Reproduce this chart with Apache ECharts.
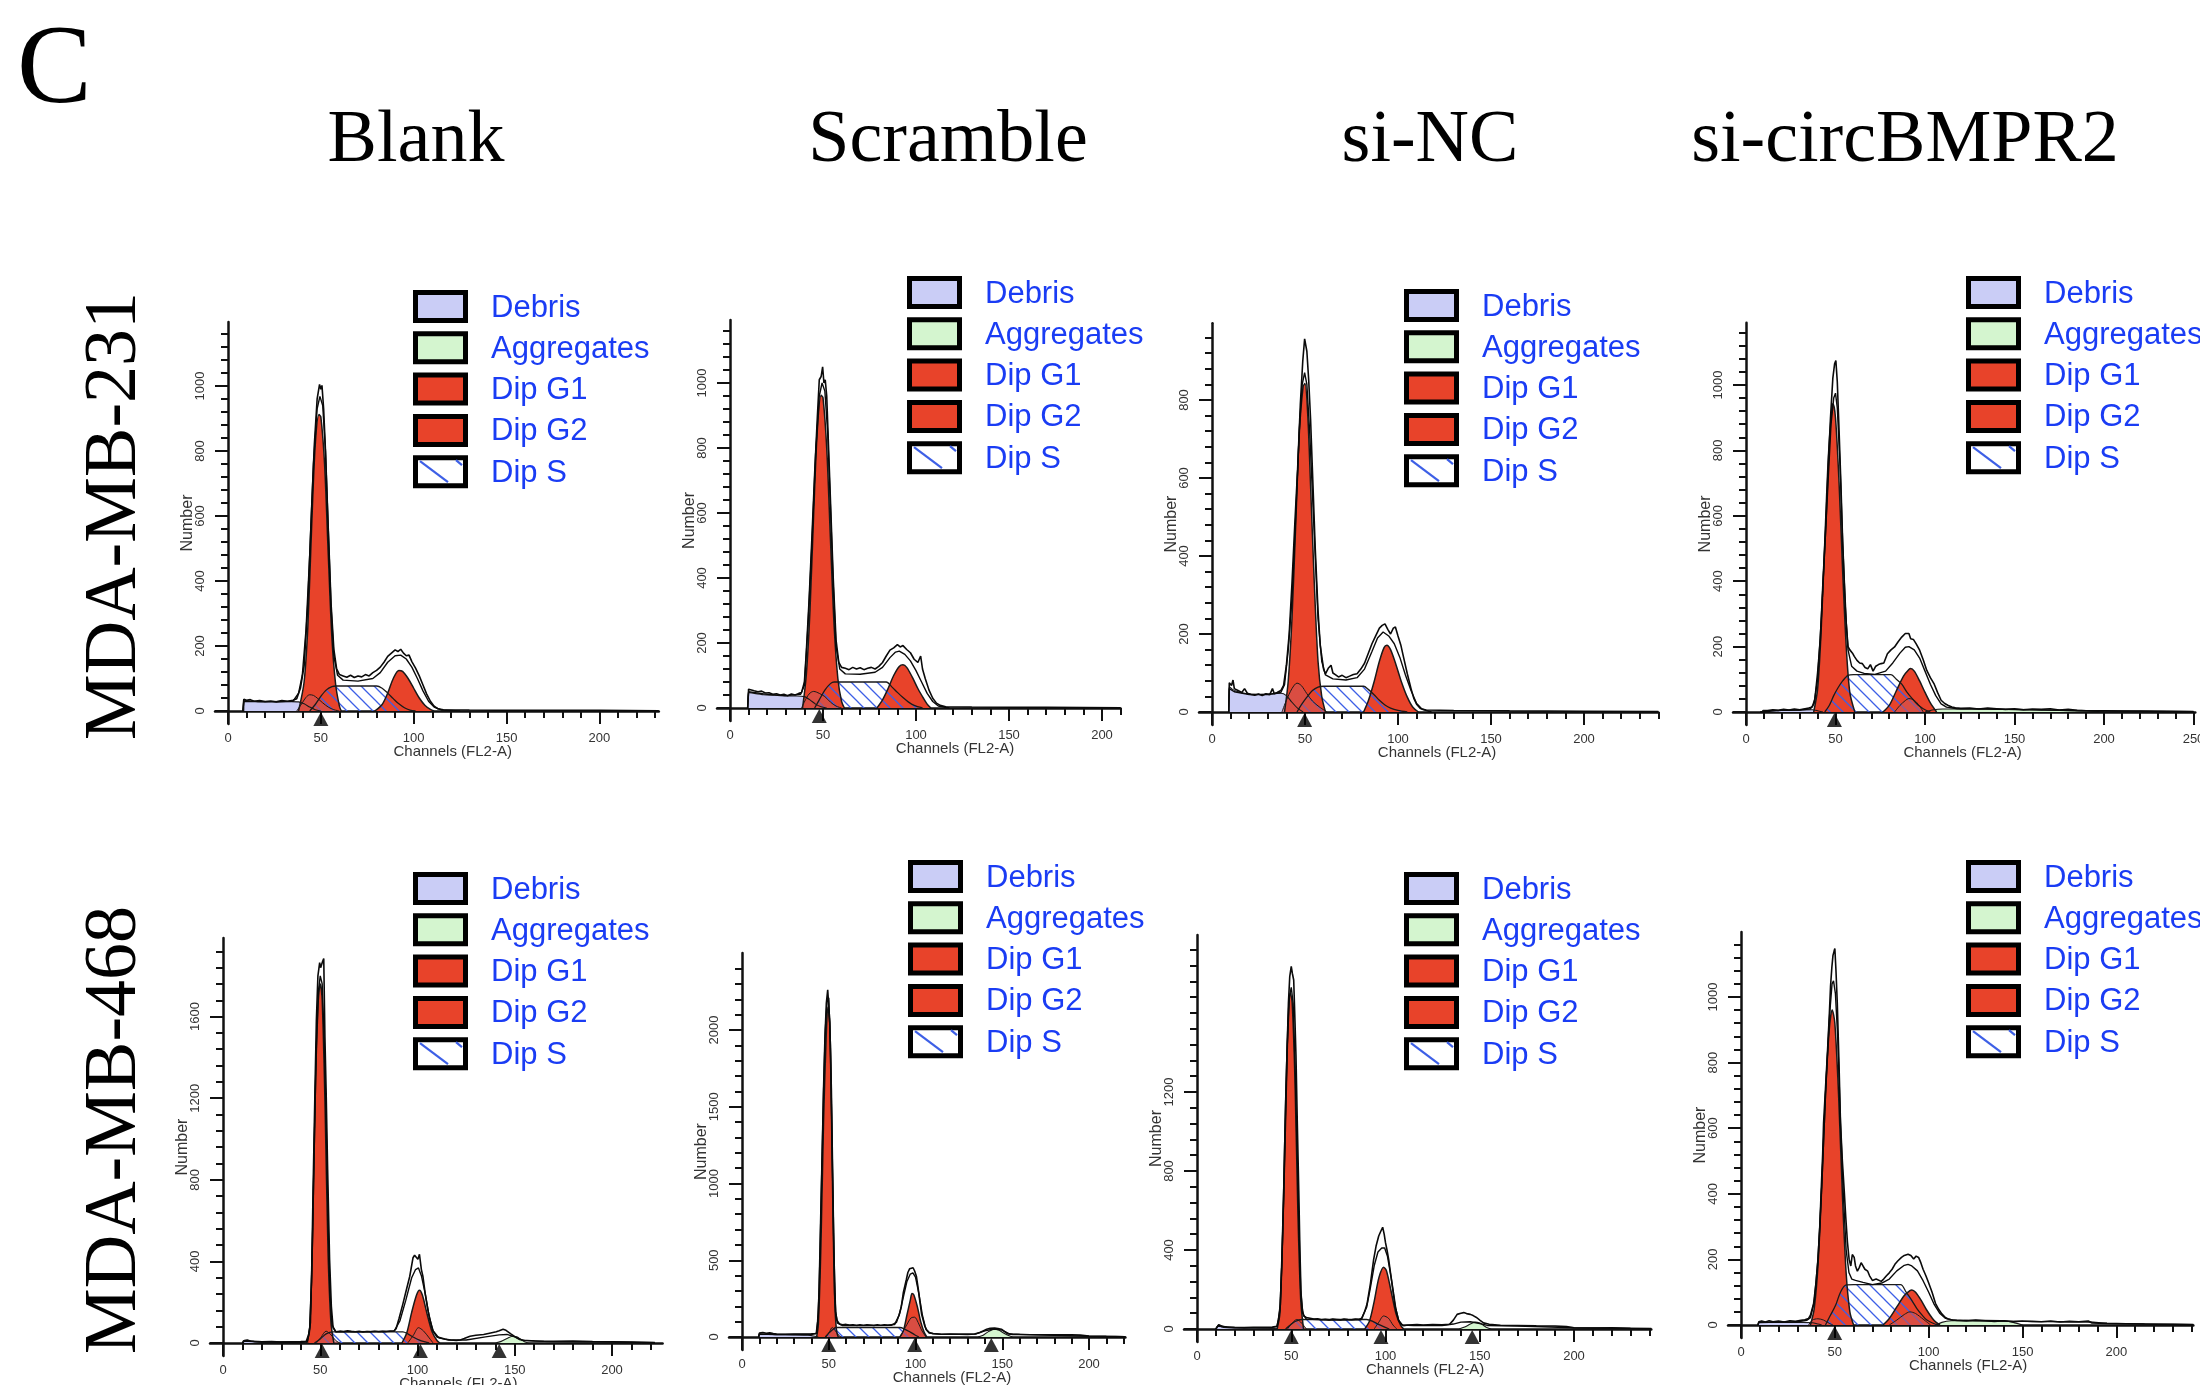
<!DOCTYPE html>
<html><head><meta charset="utf-8">
<script src="https://cdn.jsdelivr.net/npm/echarts@6/dist/echarts.min.js"></script>
<style>html,body{margin:0;padding:0;background:#fff}#c{width:2200px;height:1385px}</style>
</head><body><div id="c"></div><script>
// ---------- text ----------
const colTitles = ['Blank', 'Scramble', 'si-NC', 'si-circBMPR2'];
const rowTitles = ['MDA-MB-231', 'MDA-MB-468'];
const legendNames = ['Debris', 'Aggregates', 'Dip G1', 'Dip G2', 'Dip S'];

// ---------- tick labels ----------
const p1XLabels = [0,50,100,150,200], p1YLabels = [0,200,400,600,800,1000];
const p2XLabels = [0,50,100,150,200], p2YLabels = [0,200,400,600,800,1000];
const p3XLabels = [0,50,100,150,200], p3YLabels = [0,200,400,600,800];
const p4XLabels = [0,50,100,150,200,250], p4YLabels = [0,200,400,600,800,1000];
const p5XLabels = [0,50,100,150,200], p5YLabels = [0,400,800,1200,1600];
const p6XLabels = [0,50,100,150,200], p6YLabels = [0,500,1000,1500,2000];
const p7XLabels = [0,50,100,150,200], p7YLabels = [0,400,800,1200];
const p8XLabels = [0,50,100,150,200], p8YLabels = [0,200,400,600,800,1000];

// ---------- panel 1 : MDA-MB-231 Blank ----------
const p1Data = [[8,0],[8.5,36],[10,33],[12,35],[14,30],[17,32],[20,29],[23,31],[26,28],[29,32],[32,30],[35,33],[37,38],[39,70],[41,140],[43,330],[45,620],[46.5,820],[48,960],[49.3,1005],[50,990],[50.6,1002],[51.5,930],[52.5,800],[54,560],[55.5,330],[57,190],[58.5,130],[60,112],[62,108],[64,104],[66,110],[68,103],[70,108],[72,105],[74,112],[76,108],[78,118],[80,125],[82,135],[84,150],[86,168],[88,178],[90,188],[91.5,183],[93,190],[94.5,178],[96,170],[97.5,172],[99,152],[101,132],[103,108],[105,80],[107,52],[109,30],[111,15],[113,7],[116,4],[130,3],[160,2],[200,2],[232,1]];
const p1Fit = [[8,0],[8.5,30],[20,28],[35,30],[38,55],[40,110],[42,250],[44,480],[46,760],[48,930],[49.5,968],[51,940],[52.5,800],[54,560],[55.5,320],[57,170],[59,110],[62,95],[70,92],[78,100],[82,118],[86,150],[90,170],[93,172],[96,160],[99,135],[102,100],[105,62],[108,30],[111,12],[115,3],[125,0]];
const p1G1 = [[38,0],[41,90],[43,260],[45,560],[47,820],[49,912],[50,905],[52,760],[54,480],[56,220],[58,80],[60,15],[61,0]];
const p1G2 = [[79,0],[83,20],[86,55],[89,100],[92,125],[94,122],[97,100],[100,70],[103,40],[106,18],[109,5],[111,0]];
const p1S = [[44,0],[47,20],[50,45],[53,65],[56,75],[58,77],[70,77],[80,77],[83,70],[86,55],[89,38],[92,22],[95,10],[98,3],[101,0]];
const p1Debris = [[8.5,0],[9,32],[12,31],[16,29],[22,29],[28,28],[34,29],[38,28],[41,22],[44,12],[47,4],[50,0]];
const p1Agg = [];
const p1Tail = [[37,0],[40,25],[42,42],[44,50],[46,48],[48,40],[51,25],[54,12],[57,4],[60,0]];
const p1Tri = [50];

// ---------- panel 2 : MDA-MB-231 Scramble ----------
const p2Data = [[9.5,0],[10,58],[11,55],[13,53],[15,50],[17,52],[19,46],[21,47],[23,42],[25,44],[27,40],[29,42],[31,38],[33,43],[35,40],[37,45],[38.5,48],[40,80],[41,170],[42.5,330],[44,520],[45.5,720],[47,900],[48,1010],[49,1020],[49.8,1050],[50.5,1000],[51.2,1010],[52,960],[53,800],[54,640],[55.5,400],[57,210],[58.5,140],[60,125],[62,122],[64,118],[66,125],[68,120],[70,124],[72,118],[74,122],[76,125],[78,120],[80,128],[82,140],[84,160],[86,178],[88,185],[90,195],[91.5,188],[93,192],[95,180],[97,170],[99,150],[101,140],[102.5,160],[103.5,120],[105,90],[107,55],[109,30],[111,15],[113,8],[116,4],[130,3],[170,2],[210,1]];
const p2Fit = [[9.5,0],[10,50],[20,42],[30,38],[38,42],[40,70],[42,260],[44,500],[46,780],[48,960],[49.5,1000],[51,975],[52.5,850],[54,620],[55.5,380],[57,190],[59,120],[62,105],[70,104],[78,110],[82,125],[86,155],[89,172],[91,175],[94,165],[97,145],[100,115],[103,80],[106,45],[109,20],[112,6],[118,0]];
const p2G1 = [[39,0],[41,100],[43,300],[45,600],[47,860],[49,962],[50,955],[52,800],[54,520],[56,250],[58,90],[60,20],[61.5,0]];
const p2G2 = [[79,0],[82,25],[85,60],[88,100],[91,128],[93,133],[95,125],[98,95],[101,60],[104,30],[106,12],[108,0]];
const p2S = [[45.5,0],[48,25],[51,55],[54,75],[56,80],[70,80],[84,80],[87,65],[90,48],[93,32],[96,18],[99,8],[103.5,0]];
const p2Debris = [[9.5,0],[10,48],[13,45],[18,41],[24,39],[30,37],[36,37],[40,35],[43,25],[46,12],[49,4],[52,0]];
const p2Agg = [];
const p2Tail = [[38.5,0],[41,30],[43,46],[45,51],[48,45],[51,35],[54,18],[57,6],[60,0]];
const p2Tri = [48];

// ---------- panel 3 : MDA-MB-231 si-NC ----------
const p3Data = [[9,0],[9.3,75],[10.5,68],[11.3,82],[12,60],[14,55],[16,50],[17.5,60],[19,48],[21,45],[23,43],[25,46],[27,42],[29,47],[31,44],[32.5,60],[33.5,47],[35,50],[37,55],[38.5,68],[40,120],[41.5,200],[43,330],[44.5,480],[46,620],[47.5,790],[48.8,900],[49.8,957],[51,925],[52,850],[53,750],[54.3,580],[55.5,420],[57,260],[58.2,170],[60,110],[61,98],[62.5,112],[64,120],[65,100],[66.5,95],[68,90],[70,94],[72,88],[74,92],[76,96],[78,98],[80,110],[82,125],[84,150],[86,175],[88,195],[90,215],[91.5,222],[93,226],[94.5,212],[96,200],[97.5,215],[98.6,218],[100,195],[101.5,172],[103,140],[105,98],[107,60],[108.5,35],[110,20],[112,9],[115,5],[130,4],[160,3],[200,2],[240,1]];
const p3Fit = [[9,0],[9.3,60],[12,52],[20,45],[30,45],[37,50],[39,70],[41,160],[43,290],[45,500],[47,730],[48.5,840],[49.8,870],[51,840],[52.5,720],[54,560],[55.5,400],[57,240],[59,130],[61,95],[65,85],[72,82],[78,88],[82,110],[86,155],[89,190],[92,205],[95,195],[98,175],[101,140],[104,95],[107,55],[110,22],[113,7],[118,0]];
const p3G1 = [[39,0],[41,80],[43,240],[45,480],[47,720],[49,835],[50,842],[51.5,760],[53,580],[55,330],[57,130],[59,40],[61,0]];
const p3G2 = [[81.5,0],[84,28],[87,75],[90,130],[92.5,165],[94,171],[96,160],[99,120],[102,75],[105,38],[108,12],[111,0]];
const p3S = [[45.7,0],[48,18],[51,38],[54,55],[57,64],[60,66],[70,66],[81.5,66],[84,58],[87,45],[90,30],[93,18],[96,10],[100,4],[105,0]];
const p3Debris = [[9,0],[9.3,65],[11,58],[14,52],[20,46],[26,45],[32,46],[37,48],[40,42],[43,25],[46,10],[49,0]];
const p3Agg = [];
const p3Tail = [[37.6,0],[40,30],[43,60],[45.7,74],[48,68],[51,47],[54,28],[58,12],[62,0]];
const p3Tri = [49.8];

// ---------- panel 4 : MDA-MB-231 si-circBMPR2 ----------
const p4Data = [[8,0],[9,6],[12,4],[15,7],[18,5],[21,8],[24,6],[27,9],[30,7],[33,10],[35,12],[37,15],[38.5,40],[40,120],[41.5,220],[43,400],[44.5,560],[46,760],[47.2,900],[48.5,1020],[49.5,1065],[50.2,1075],[51,1010],[52,860],[53,700],[54,520],[55,390],[56,270],[57,200],[58,190],[58.8,196],[59.5,180],[60.5,170],[62,158],[63.5,150],[65,148],[66.5,136],[68,132],[69.5,145],[71,125],[72.5,140],[74,145],[75.5,148],[77,150],[79,178],[81,190],[83,199],[85,215],[87,229],[89,240],[90,245],[91,240],[92,224],[93.5,222],[95,209],[97,189],[99,160],[101,127],[103,105],[105,87],[107,60],[109,36],[111,26],[113,20],[115,15],[117,13],[120,11],[125,12],[130,9],[135,12],[140,10],[145,8],[150,10],[155,7],[160,9],[165,8],[170,10],[175,6],[180,8],[185,5],[190,4],[200,4],[210,3],[220,3],[235,2],[250,1]];
const p4Fit = [[8,0],[9,4],[20,5],[30,6],[36,10],[38,25],[40,100],[42,280],[44,500],[46,720],[47.5,880],[49,960],[50,975],[51,930],[52.5,760],[54,520],[55.5,320],[57,190],[59,140],[62,125],[66,118],[72,115],[78,125],[82,150],[86,180],[89,198],[91,200],[94,190],[97,165],[100,125],[103,85],[106,50],[109,25],[112,15],[118,10],[150,8],[190,4],[250,1]];
const p4G1 = [[37.8,0],[40,70],[42,250],[44,520],[46,780],[48,930],[48.6,943],[50,900],[52,700],[54,430],[56,200],[58,60],[60.8,0]];
const p4G2 = [[76.5,0],[80,20],[84,65],[88,110],[91,130],[92,133],[94,125],[97,95],[100,60],[103,28],[106.5,0]];
const p4S = [[44,0],[46.5,20],[49,50],[51.5,75],[54,95],[57,112],[60,114],[70,114],[81,114],[84,100],[87,85],[90,60],[93,40],[96,22],[99,10],[103,0]];
const p4Debris = [[9,0],[9.5,5],[20,5],[30,6],[37,7],[40,4],[43,0]];
const p4Agg = [[100,0],[104,6],[110,9],[120,9],[130,9],[140,8],[150,7],[160,6],[175,5],[190,3],[200,0]];
const p4Tail = [[83,0],[86,20],[89,35],[91,41],[94,36],[97,18],[99,0]];
const p4Tri = [49.4];

// ---------- panel 5 : MDA-MB-468 Blank ----------
const p5Data = [[10,0],[11,12],[12.5,14],[14,10],[16,8],[20,6],[25,7],[30,5],[35,6],[40,7],[42.8,8],[44,40],[44.6,75],[45.5,300],[46.3,744],[47.2,1200],[48,1580],[48.8,1800],[49.7,1865],[50.2,1840],[50.6,1848],[51.2,1870],[51.8,1885],[52.4,1500],[53,1246],[53.8,850],[54.8,410],[55.7,180],[56.6,75],[58,55],[60,58],[62,56],[64,60],[66,57],[68,55],[70,58],[72,54],[74,56],[76,55],[78,58],[80,55],[82,57],[84,56],[86,58],[88,60],[89,70],[90.5,120],[92.5,192],[94,250],[96,326],[97.7,418],[98.5,430],[99.4,426],[100.2,410],[101,435],[102,360],[102.8,326],[104,240],[105.4,159],[107,90],[108,58],[110,30],[111,25],[114,20],[117,15],[120,12],[122,15],[124,22],[127,33],[130,38],[134,42],[137,48],[140.5,55],[142,60],[144,67],[145.5,62],[146.5,58],[148,45],[149,38],[151,25],[152.5,17],[155,12],[160,10],[170,8],[180,9],[190,7],[200,6],[210,5],[215,4],[222,2]];
const p5Fit = [[10,0],[11,10],[20,5],[40,5],[43.5,8],[45,100],[46,500],[47,1000],[48,1450],[49,1720],[50,1800],[51,1760],[52,1500],[53,1100],[54,600],[55,250],[56,90],[58,55],[70,55],[88,58],[91,110],[94,210],[97,320],[99,360],[100.5,368],[102,330],[104,240],[106,130],[108,60],[111,25],[116,15],[125,15],[135,30],[142,40],[146,42],[150,30],[154,14],[165,8],[200,5],[222,2]];
const p5G1 = [[43,0],[44.5,60],[46,500],[47.5,1250],[49,1680],[50,1760],[51,1680],[52.5,1150],[54,450],[55.5,100],[57,0]];
const p5G2 = [[92,0],[94.5,50],[97,150],[99.5,235],[101,259],[102.5,235],[105,140],[107.5,55],[110,12],[111.5,0]];
const p5S = [[47,0],[50,20],[53,45],[56.5,55],[70,55],[85,55],[92.5,55],[95,45],[98,28],[101,14],[104,5],[106,0]];
const p5Debris = [[10,0],[10.5,12],[13,12],[16,6],[20,4],[30,3],[40,2],[44,0]];
const p5Agg = [[140,0],[143,8],[146,22],[149,33],[151,30],[153,18],[155,6],[157,0]];
const p5TailA = [[48,0],[50.5,30],[53,58],[55.5,40],[58,12],[60,0]];
const p5TailB = [[95,0],[98,40],[100.5,75],[103,60],[106,25],[108,0]];
const p5Tri = [51, 101.5, 142];

// ---------- panel 6 : MDA-MB-468 Scramble ----------
const p6Data = [[9.6,0],[10,25],[12,29],[14,24],[16,27],[18,22],[20,20],[25,18],[30,19],[35,20],[40,21],[42.8,22],[43.6,100],[44.4,284],[45,600],[45.7,951],[46.4,1300],[47,1618],[47.8,1950],[48.6,2173],[49.4,2262],[50.1,2273],[50.6,2050],[51.5,1618],[52.4,951],[53,550],[53.4,284],[54,160],[54.8,107],[56.3,84],[58,80],[60,82],[62,78],[64,80],[66,76],[68,79],[70,77],[72,80],[74,78],[76,76],[78,79],[80,77],[82,80],[84,78],[86,80],[88,82],[89,90],[90.5,140],[91.8,196],[93,290],[94.7,373],[95.6,420],[96.6,444],[97.6,448],[98.6,451],[99.5,430],[100.5,396],[101.5,320],[102.4,240],[103.5,150],[105.3,73],[106.5,45],[108,29],[110,22],[115,18],[120,20],[125,18],[130,17],[134,20],[137,29],[139,40],[141,51],[143,56],[145.6,58],[147.5,55],[149.5,51],[151,38],[153,22],[156,17],[160,16],[170,15],[180,14],[190,15],[195,12],[200,6],[210,4],[221,2]];
const p6Fit = [[9.6,0],[10,20],[20,16],[40,16],[43,25],[44,150],[45,550],[46,1100],[47,1600],[48,2000],[49,2180],[50,2210],[51,1900],[52,1200],[53,550],[54,160],[55,90],[58,75],[70,74],[86,76],[89,95],[91,160],[93,260],[95,360],[97,410],[98.5,418],[100,390],[102,280],[104,140],[106,50],[108,25],[115,17],[135,20],[140,40],[145,52],[150,45],[154,20],[170,14],[200,5],[221,2]];
const p6G1 = [[43,0],[44,80],[45.5,600],[47,1400],[48.5,1950],[49.5,2150],[50.5,2050],[51.5,1500],[52.5,750],[53.5,220],[54.5,40],[55.5,0]];
const p6G2 = [[91,0],[93,40],[95,140],[97,240],[98,284],[99,275],[101,200],[103,100],[105,30],[106.5,0]];
const p6S = [[48,0],[50,25],[52,45],[54,62],[70,62],[91,62],[94,50],[97,32],[99.5,15],[102,0]];
const p6Debris = [[9.6,0],[10,18],[14,18],[20,15],[30,14],[38,12],[42,5],[44,0]];
const p6Agg = [[136,0],[139,12],[142,35],[145.6,51],[148,45],[151,25],[154,8],[156,0]];
const p6TailA = [[48.5,0],[50.5,35],[52,62],[53.5,45],[55.5,15],[57,0]];
const p6TailB = [[91,0],[93,40],[95,80],[97.5,125],[99.5,129],[101.5,95],[103.5,45],[106,0]];
const p6Tri = [50, 99.5, 143.7];

// ---------- panel 7 : MDA-MB-468 si-NC ----------
const p7Data = [[10,0],[10.5,10],[11.5,22],[12.5,18],[14,12],[16,9],[20,8],[25,7],[30,9],[35,8],[40,10],[42.4,14],[43.3,50],[44.2,126],[45,350],[46,696],[46.8,1050],[47.7,1387],[48.5,1650],[49.2,1784],[50,1836],[50.6,1800],[51.3,1767],[52,1550],[52.5,1387],[53.2,1050],[54,696],[54.6,400],[55.2,178],[55.9,100],[56.6,66],[58,58],[60,54],[62,50],[64,52],[66,47],[68,49],[70,46],[72,50],[74,48],[76,46],[78,50],[80,48],[82,47],[84,50],[86,49],[87.5,55],[89,90],[90.2,126],[92,230],[93.7,351],[95,420],[96.4,471],[97.5,495],[98.5,515],[99.3,480],[100,437],[100.8,400],[101.7,351],[103,260],[104.3,178],[105.5,100],[107,40],[108.3,25],[109.6,17],[112,20],[116.7,22],[120,20],[125,22],[130,21],[134,24],[136,45],[138,74],[140,80],[141.5,83],[143,78],[145,74],[146.5,68],[148.5,57],[150,45],[152,31],[155,24],[161,19],[170,18],[180,16],[190,15],[196,12],[200,6],[210,5],[220,6],[230,4],[241,2]];
const p7Fit = [[10,0],[11,15],[20,7],[40,8],[42.5,12],[44,100],[45,330],[46,660],[47,1050],[48,1450],[49,1680],[50,1730],[51,1650],[52,1350],[53,950],[54,550],[55,200],[56,80],[58,50],[70,45],[87,47],[90,110],[92,210],[94,320],[96,390],[98,410],[99.5,411],[101,370],[103,260],[105,120],[107,45],[109,20],[115,18],[130,18],[136,25],[140,35],[145,37],[150,28],[154,18],[170,15],[200,6],[241,2]];
const p7G1 = [[42.5,0],[44,80],[45.5,500],[47,1150],[48.5,1600],[49.5,1700],[50.5,1650],[52,1250],[53.5,600],[55,150],[56.5,0]];
const p7G2 = [[89,0],[91.5,40],[94,140],[96.5,260],[99,313],[100.5,295],[103,190],[105.5,80],[108,20],[109.6,0]];
const p7S = [[47,0],[49.5,20],[52,38],[55.7,48],[70,48],[90,48],[93,40],[96,25],[99,12],[102,0]];
const p7Debris = [[10,0],[10.5,10],[11.5,20],[13,10],[16,6],[25,4],[40,3],[43,0]];
const p7Agg = [[139,0],[142,10],[145,25],[147.6,35],[150,30],[152,18],[154,6],[156,0]];
const p7TailA = [[48,0],[50,25],[53,48],[55.5,30],[58,0]];
const p7TailB = [[94,0],[96.5,35],[99,66],[101.5,55],[104,20],[106,0]];
const p7Tri = [50, 97.6, 146];

// ---------- panel 8 : MDA-MB-468 si-circBMPR2 ----------
const p8Data = [[9,0],[9.5,10],[11,12],[13,9],[15,13],[17,10],[20,12],[23,9],[26,13],[29,11],[32,14],[34,16],[36,20],[37,30],[38.7,66],[40,130],[41,201],[42,300],[42.7,409],[43.5,520],[44,617],[45,720],[46,825],[47,940],[47.7,1033],[48.4,1090],[49,1127],[49.6,1140],[50,1148],[50.6,1080],[51.3,981],[52.2,800],[53,617],[54,500],[55,409],[55.8,330],[56.7,253],[57.6,200],[58.5,180],[59.3,215],[60.3,206],[61,180],[62,164],[63,175],[64,190],[64.8,185],[66,170],[67.5,164],[68.5,150],[70,136],[72,140],[74.7,133],[76,140],[77.5,150],[79,159],[80.5,170],[82,185],[83.5,195],[85.5,206],[87,212],[89,216],[90.5,212],[92,201],[93.3,210],[94.6,206],[95.8,190],[97,170],[98.5,150],[100,128],[101.8,100],[103.6,66],[105.3,48],[107,34],[108.5,25],[110,19],[112,16],[115,14],[120,12],[125,15],[130,13],[135,11],[140,13],[145,10],[150,12],[155,11],[160,10],[165,12],[170,9],[175,11],[180,10],[185,12],[187,6],[195,5],[205,4],[215,3],[230,2],[241,1]];
const p8Fit = [[9,0],[9.5,8],[20,9],[30,10],[35,14],[37,22],[39,70],[41,200],[43,420],[45,700],[47,930],[48.5,1040],[49.3,1049],[50.3,1010],[51.5,880],[53,620],[54.5,400],[56,230],[57.5,160],[59,140],[61,136],[65,130],[70,123],[75,128],[79,140],[83,165],[87,182],[89,185],[91,180],[94,165],[97,135],[100,100],[103,62],[106,35],[109,20],[113,15],[125,13],[150,11],[186,9],[195,5],[241,1]];
const p8G1 = [[37,0],[39,50],[41,180],[43,420],[45,700],[47,900],[48.6,960],[50,920],[52,700],[54,400],[56,160],[58,40],[60,0]];
const p8G2 = [[75.6,0],[79,20],[83,55],[87,90],[90,105],[91,107],[93,100],[96,75],[99,45],[102,20],[104,8],[106,0]];
const p8S = [[45,0],[47.5,28],[50.4,60],[53,100],[56,122],[60,123],[70,123],[85,123],[88,100],[91,75],[93.7,50],[96.5,30],[99,15],[102,6],[104.5,0]];
const p8Debris = [[9,0],[9.5,7],[15,8],[25,8],[33,8],[38,7],[41,3],[43,0]];
const p8Agg = [[104,0],[107,8],[112,13],[120,14],[130,14],[140,13],[145,8],[150,0]];
const p8TailA = [[36,0],[38,15],[41,19],[44,15],[47,5],[49,0]];
const p8TailB = [[79,0],[83,15],[87,32],[90,40],[93,35],[97,18],[101,0]];
const p8Tri = [49.9];

// ---------- assembly ----------
const PANELS = [
  {data:p1Data, fit:p1Fit, g1:p1G1, g2:p1G2, s:p1S, debris:p1Debris, agg:p1Agg, tails:[p1Tail], tri:p1Tri, xl:p1XLabels, yl:p1YLabels},
  {data:p2Data, fit:p2Fit, g1:p2G1, g2:p2G2, s:p2S, debris:p2Debris, agg:p2Agg, tails:[p2Tail], tri:p2Tri, xl:p2XLabels, yl:p2YLabels},
  {data:p3Data, fit:p3Fit, g1:p3G1, g2:p3G2, s:p3S, debris:p3Debris, agg:p3Agg, tails:[p3Tail], tri:p3Tri, xl:p3XLabels, yl:p3YLabels},
  {data:p4Data, fit:p4Fit, g1:p4G1, g2:p4G2, s:p4S, debris:p4Debris, agg:p4Agg, tails:[p4Tail], tri:p4Tri, xl:p4XLabels, yl:p4YLabels},
  {data:p5Data, fit:p5Fit, g1:p5G1, g2:p5G2, s:p5S, debris:p5Debris, agg:p5Agg, tails:[p5TailA,p5TailB], tri:p5Tri, xl:p5XLabels, yl:p5YLabels},
  {data:p6Data, fit:p6Fit, g1:p6G1, g2:p6G2, s:p6S, debris:p6Debris, agg:p6Agg, tails:[p6TailA,p6TailB], tri:p6Tri, xl:p6XLabels, yl:p6YLabels},
  {data:p7Data, fit:p7Fit, g1:p7G1, g2:p7G2, s:p7S, debris:p7Debris, agg:p7Agg, tails:[p7TailA,p7TailB], tri:p7Tri, xl:p7XLabels, yl:p7YLabels},
  {data:p8Data, fit:p8Fit, g1:p8G1, g2:p8G2, s:p8S, debris:p8Debris, agg:p8Agg, tails:[p8TailA,p8TailB], tri:p8Tri, xl:p8XLabels, yl:p8YLabels}
];

// layout (pixel placement of each panel)
const LAYOUT = [
  {ox:228,  oy:711,  pxc:1.857, pxu:0.325,  xmax:232, ymax:1197, yStep:40,  xTickMax:230, yTickMax:1160, leg:[413,290]},
  {ox:730,  oy:708,  pxc:1.86,  pxu:0.325,  xmax:210, ymax:1194, yStep:40,  xTickMax:210, yTickMax:1160, leg:[907,276]},
  {ox:1212, oy:712,  pxc:1.86,  pxu:0.39,   xmax:240, ymax:997,  yStep:40,  xTickMax:240, yTickMax:960,  leg:[1404,289]},
  {ox:1746, oy:712,  pxc:1.79,  pxu:0.327,  xmax:251, ymax:1190, yStep:40,  xTickMax:250, yTickMax:1160, leg:[1966,276]},
  {ox:223,  oy:1343, pxc:1.945, pxu:0.204,  xmax:226, ymax:1985, yStep:80,  xTickMax:220, yTickMax:1920, leg:[413,872]},
  {ox:742,  oy:1337, pxc:1.735, pxu:0.1535, xmax:221, ymax:2501, yStep:100, xTickMax:220, yTickMax:2400, leg:[908,860]},
  {ox:1197, oy:1329, pxc:1.885, pxu:0.1975, xmax:241, ymax:1995, yStep:80,  xTickMax:240, yTickMax:1920, leg:[1404,872]},
  {ox:1741, oy:1325, pxc:1.877, pxu:0.328,  xmax:241, ymax:1198, yStep:40,  xTickMax:240, yTickMax:1160, leg:[1966,860]}
];

const SANS = 'Liberation Sans, Arial, sans-serif';
const SERIF = 'Liberation Serif, Times New Roman, serif';
const C_DEBRIS = '#cacdf6', C_AGG = '#d4f5cf', C_RED = '#e8432a', C_TAIL = 'rgba(205,85,85,0.55)', C_LEG = '#1a3cf4';

function ticks(max, step) { const a = []; for (let v = 0; v <= max + 1e-6; v += step) a.push(v); return a; }

function hatchCanvas(size, color) {
  const c = document.createElement('canvas'); c.width = c.height = size;
  const ctx = c.getContext('2d');
  ctx.strokeStyle = color; ctx.lineWidth = 1.3;
  ctx.beginPath();
  ctx.moveTo(-2, -2); ctx.lineTo(size + 2, size + 2);
  ctx.moveTo(size - 2, -2); ctx.lineTo(size + 2, 2);
  ctx.moveTo(-2, size - 2); ctx.lineTo(2, size + 2);
  ctx.stroke();
  return c;
}
const HATCH = hatchCanvas(13, '#3d5fe6');

function areaSeries(d, gi, fill, lw, smooth) {
  return {type:'line', data:d, xAxisIndex:2*gi, yAxisIndex:2*gi, symbol:'none', showSymbol:false,
    smooth:smooth, silent:true, animation:false,
    lineStyle:{color:'#1a1a1a', width:lw}, areaStyle:{color:fill, opacity:1}};
}
function lineSeries(d, gi, lw) {
  return {type:'line', data:d, xAxisIndex:2*gi, yAxisIndex:2*gi, symbol:'none', showSymbol:false,
    smooth:false, silent:true, animation:false, lineStyle:{color:'#0a0a0a', width:lw}};
}
const plain = v => String(Math.round(v));

const option = {animation:false, backgroundColor:'#fff', textStyle:{fontFamily:SANS},
  grid:[], xAxis:[], yAxis:[], series:[], graphic:[]};

LAYOUT.forEach((L, i) => {
  const P = PANELS[i];
  const xmin = -13 / L.pxc, ymin = -13 / L.pxu;
  option.grid.push({left:L.ox - 13, top:L.oy - L.ymax * L.pxu, width:L.xmax * L.pxc + 13, height:L.ymax * L.pxu + 13,
    outerBoundsMode:'none', containLabel:false});
  const shift = (121 - (xmin + L.xmax) / 2) * L.pxc;
  // main x axis: line, labelled (major) ticks, name
  option.xAxis.push({gridIndex:i, type:'value', min:xmin, max:L.xmax,
    axisLine:{onZero:true, lineStyle:{color:'#111', width:2.5}},
    axisTick:{customValues:P.xl, length:13, lineStyle:{color:'#111', width:2}},
    axisLabel:{customValues:P.xl, formatter:plain, margin:8, fontSize:13, color:'#333', fontFamily:SANS},
    splitLine:{show:false},
    name:'Channels (FL2-A)', nameLocation:'middle', nameGap:20, nameMoveOverlap:false,
    nameTextStyle:{fontSize:15, color:'#333', fontFamily:SANS, padding:[0,0,0,2*shift]}});
  // minor x ticks
  option.xAxis.push({gridIndex:i, type:'value', min:xmin, max:L.xmax, position:'top',
    axisLine:{show:false, onZero:true},
    axisTick:{customValues:ticks(L.xTickMax, 10), inside:true, length:7, lineStyle:{color:'#111', width:2}},
    axisLabel:{show:false}, splitLine:{show:false}});
  // main y axis
  option.yAxis.push({gridIndex:i, type:'value', min:ymin, max:L.ymax,
    axisLine:{onZero:true, lineStyle:{color:'#111', width:2.5}},
    axisTick:{customValues:P.yl, length:13, lineStyle:{color:'#111', width:2}},
    axisLabel:{customValues:P.yl, formatter:plain, rotate:90, margin:8, fontSize:13, color:'#333', fontFamily:SANS},
    splitLine:{show:false},
    name:'Number', nameLocation:'middle', nameRotate:90, nameGap:19, nameMoveOverlap:false,
    nameTextStyle:{fontSize:16, color:'#333', fontFamily:SANS}});
  // minor y ticks
  option.yAxis.push({gridIndex:i, type:'value', min:ymin, max:L.ymax, position:'right',
    axisLine:{show:false, onZero:true},
    axisTick:{customValues:ticks(L.yTickMax, L.yStep), inside:true, length:7, lineStyle:{color:'#111', width:2}},
    axisLabel:{show:false}, splitLine:{show:false}});

  option.series.push(areaSeries(P.debris, i, C_DEBRIS, 1.1, 0.2));
  option.series.push(areaSeries(P.agg, i, C_AGG, 1.1, 0.3));
  option.series.push(areaSeries(P.g1, i, C_RED, 1.5, 0.3));
  option.series.push(areaSeries(P.g2, i, C_RED, 1.5, 0.3));
  option.series.push(areaSeries(P.s, i, {image:HATCH, repeat:'repeat'}, 1.3, 0.3));
  P.tails.forEach(t => option.series.push(areaSeries(t, i, C_TAIL, 1.0, 0.3)));
  option.series.push(lineSeries(P.fit, i, 1.4));
  option.series.push(lineSeries(P.data, i, 1.6));
  option.series.push({type:'scatter', data:P.tri.map(c => [c, 0]), xAxisIndex:2*i, yAxisIndex:2*i,
    symbol:'triangle', symbolSize:[15, 14], symbolOffset:[0, 8], itemStyle:{color:'#000'},
    clip:false, silent:true, z:10});

  // legend block
  const fills = [C_DEBRIS, C_AGG, C_RED, C_RED, '#fff'];
  const [bx, by0] = L.leg;
  legendNames.forEach((nm, k) => {
    const by = by0 + k * 41.3;
    option.graphic.push({type:'rect', shape:{x:bx + 2.5, y:by + 2.5, width:50, height:28},
      style:{fill:fills[k], stroke:'#000', lineWidth:5}, silent:true, z:20});
    if (k === 4) {
      option.graphic.push({type:'line', shape:{x1:bx + 7, y1:by + 6, x2:bx + 35, y2:by + 27},
        style:{stroke:'#3d5fe6', lineWidth:2.2}, silent:true, z:21});
      option.graphic.push({type:'line', shape:{x1:bx + 43, y1:by + 5, x2:bx + 49, y2:by + 10},
        style:{stroke:'#3d5fe6', lineWidth:2.2}, silent:true, z:21});
    }
    option.graphic.push({type:'text', x:bx + 78, y:by + 18,
      style:{text:nm, font:'31px ' + SANS, fill:C_LEG, align:'left', verticalAlign:'middle',
             textAlign:'left', textVerticalAlign:'middle'}, silent:true, z:20});
  });
});

// titles
const colCenters = [416, 948, 1430, 1905];
colTitles.forEach((t, k) => option.graphic.push({type:'text', x:colCenters[k], y:142,
  style:{text:t, font:'74px ' + SERIF, fill:'#000', align:'center', verticalAlign:'middle',
         textAlign:'center', textVerticalAlign:'middle'}, silent:true}));
const rowCenters = [516, 1130];
rowTitles.forEach((t, k) => option.graphic.push({type:'text', x:116, y:rowCenters[k], rotation:Math.PI / 2,
  style:{text:t, font:'74px ' + SERIF, fill:'#000', align:'center', verticalAlign:'middle',
         textAlign:'center', textVerticalAlign:'middle'}, silent:true}));
option.graphic.push({type:'text', x:17, y:73,
  style:{text:'C', font:'112px ' + SERIF, fill:'#000', align:'left', verticalAlign:'middle',
         textAlign:'left', textVerticalAlign:'middle'}, silent:true});

const chart = echarts.init(document.getElementById('c'), null, {renderer:'canvas', width:2200, height:1385});
chart.setOption(option);
</script></body></html>
